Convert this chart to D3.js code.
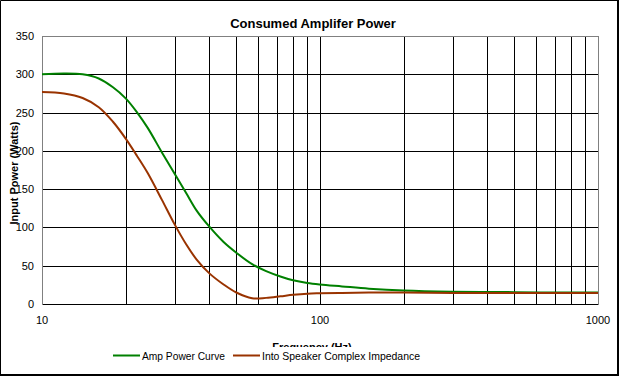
<!DOCTYPE html>
<html>
<head>
<meta charset="utf-8">
<script src="https://cdn.jsdelivr.net/npm/d3@7"></script>
<style>
  body { margin: 0; background: #fff; }
  svg text { font-family: "Liberation Sans", Arial, sans-serif; fill: #000; }
</style>
</head>
<body>
<div id="chart"></div>
<script>
// frequencies (Hz)
const freqs = [10, 12, 14, 16, 18, 20, 22, 24, 27, 30, 33, 36, 40, 45, 50, 57, 64, 72, 80, 90, 100, 120, 150, 200, 300, 500, 700, 1000];
// Amp Power Curve (Watts)
const ampPower = [300, 301, 300, 294.5, 283, 268.5, 250, 230, 198, 170, 145, 122, 101, 81, 67, 52, 43, 36, 31, 27.5, 25.5, 23, 20, 17.5, 16, 15.5, 15, 15];
// Into Speaker Complex Impedance (Watts)
const speakerPower = [277, 275, 269, 257, 238, 216, 193, 171, 136, 104, 78, 58, 40, 25.5, 15, 7.5, 8, 10, 12, 13.5, 14, 14.5, 15, 15, 14.5, 14.5, 14.5, 14.5];

const yTicks = [0, 50, 100, 150, 200, 250, 300, 350];
const xTickLabels = [10, 100, 1000];
const xGrid = [20, 30, 40, 50, 60, 70, 80, 90, 100, 200, 300, 400, 500, 600, 700, 800, 900];

const seriesNames = ["Amp Power Curve", "Into Speaker Complex Impedance"];
const seriesColours = ["#008000", "#993300"];

const width = 619, height = 376;
const plot = { left: 42, right: 598, top: 36, bottom: 304 };

const svg = d3.select("#chart").append("svg")
    .attr("width", width)
    .attr("height", height);

// outer frame
svg.append("path")
    .attr("d", "M0.5,374 V0.5 H617")
    .attr("fill", "none").attr("stroke", "#000").attr("stroke-width", 1);
svg.append("path")
    .attr("d", "M618,0 V375 H0")
    .attr("fill", "none").attr("stroke", "#000").attr("stroke-width", 2);

const x = d3.scaleLog().domain([10, 1000]).range([plot.left, plot.right]);
const y = d3.scaleLinear().domain([0, 350]).range([plot.bottom, plot.top]);
const px = v => Math.round(v) + 0.5;

const g = svg.append("g");

// horizontal gridlines
g.selectAll(".hgrid")
    .data(yTicks.filter(d => d < 350))
    .enter().append("line")
    .attr("class", "hgrid")
    .attr("x1", plot.left).attr("x2", plot.right)
    .attr("y1", d => px(y(d))).attr("y2", d => px(y(d)))
    .attr("stroke", "#000").attr("shape-rendering", "crispEdges");

// vertical gridlines
g.selectAll(".vgrid")
    .data(xGrid)
    .enter().append("line")
    .attr("class", "vgrid")
    .attr("x1", d => px(x(d))).attr("x2", d => px(x(d)))
    .attr("y1", plot.top).attr("y2", plot.bottom)
    .attr("stroke", "#000").attr("shape-rendering", "crispEdges");

// plot area border (grey)
g.append("path")
    .attr("d", "M" + px(plot.left) + "," + px(plot.bottom) + " V" + px(plot.top) + " H" + px(plot.right) + " V" + (plot.bottom + 1))
    .attr("fill", "none").attr("stroke", "#808080").attr("shape-rendering", "crispEdges");

// y tick labels
g.selectAll(".ylab")
    .data(yTicks)
    .enter().append("text")
    .attr("class", "ylab")
    .attr("x", 34)
    .attr("y", d => y(d) + 4)
    .attr("text-anchor", "end")
    .attr("font-size", "11px")
    .text(d => d);

// x tick labels
g.selectAll(".xlab")
    .data(xTickLabels)
    .enter().append("text")
    .attr("class", "xlab")
    .attr("x", d => x(d))
    .attr("y", 324)
    .attr("text-anchor", "middle")
    .attr("font-size", "11px")
    .text(d => d);

// title
svg.append("text")
    .attr("x", 313).attr("y", 28)
    .attr("text-anchor", "middle")
    .attr("font-size", "13px").attr("font-weight", "bold")
    .text("Consumed Amplifer Power");

// y title
svg.append("text")
    .attr("transform", "translate(18,173) rotate(-90)")
    .attr("text-anchor", "middle")
    .attr("font-size", "11px").attr("font-weight", "bold")
    .text("Input Power (Watts)");

// x title (partly hidden by legend)
svg.append("text")
    .attr("x", 312).attr("y", 351)
    .attr("text-anchor", "middle")
    .attr("font-size", "11px").attr("font-weight", "bold")
    .text("Frequency (Hz)");

// series lines
const line = d3.line()
    .x(d => x(d[0]))
    .y(d => y(d[1]))
    .curve(d3.curveCatmullRom.alpha(0.5));

[ampPower, speakerPower].forEach((vals, i) => {
    g.append("path")
        .datum(freqs.map((f, j) => [f, vals[j]]))
        .attr("fill", "none")
        .attr("stroke", seriesColours[i])
        .attr("stroke-width", 2)
        .attr("d", line);
});

// legend
const legend = svg.append("g");
legend.append("rect")
    .attr("x", 110).attr("y", 347).attr("width", 318).attr("height", 18)
    .attr("fill", "#fff");

const legendX = [113, 233];
const legendW = [83, 158];
seriesNames.forEach((name, i) => {
    legend.append("line")
        .attr("x1", legendX[i]).attr("x2", legendX[i] + 27)
        .attr("y1", 355.5).attr("y2", 355.5)
        .attr("stroke", seriesColours[i]).attr("stroke-width", 2);
    legend.append("text")
        .attr("x", legendX[i] + 29).attr("y", 359.5)
        .attr("font-size", "11px")
        .attr("textLength", legendW[i])
        .attr("lengthAdjust", "spacingAndGlyphs")
        .text(name);
});
</script>
</body>
</html>
